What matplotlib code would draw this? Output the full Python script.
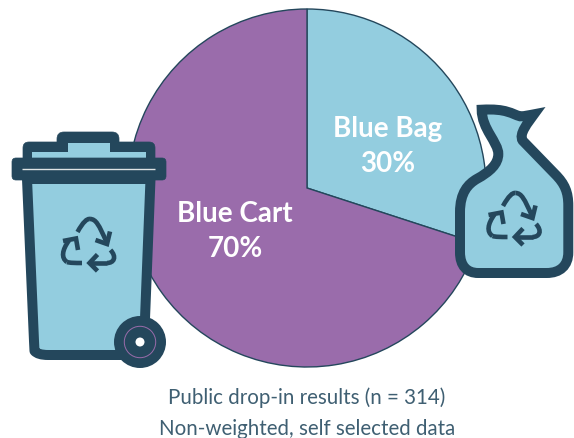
import matplotlib
matplotlib.use("Agg")
import matplotlib.pyplot as plt
from matplotlib.path import Path
from matplotlib.patches import PathPatch, Circle, FancyBboxPatch, Rectangle

labels = ["Blue Bag", "Blue Cart"]
shares = [30, 70]
colors = ["#93CDDF", "#9A6CAB"]
caption = ["Public drop-in results (n = 314)", "Non-weighted, self selected data"]

NAVY = "#24475C"
LIGHT = "#93CDDF"
W, H = 574, 439
CX, CY, R = 307, 189, 179
PX = 0.72  # points per pixel at 100 dpi

plt.rcParams["font.family"] = ["Lato", "DejaVu Sans"]
fig = plt.figure(figsize=(W / 100, H / 100), dpi=100)

# Pie axes sized so the circle sits at the wanted place on the canvas
pie_ax = fig.add_axes([(CX - R) / W, 1 - (CY + R) / H, 2 * R / W, 2 * R / H])
pie_ax.pie(shares, colors=colors, startangle=90, counterclock=False, radius=1,
           wedgeprops=dict(edgecolor=NAVY, linewidth=1.0))
pie_ax.set_xlim(-1, 1)
pie_ax.set_ylim(-1, 1)
for p in pie_ax.patches:
    p.set_clip_on(False)

# Overlay in canvas pixels for the icons and the text
ax = fig.add_axes([0, 0, 1, 1], facecolor="none")
ax.set_xlim(0, W)
ax.set_ylim(H, 0)
ax.axis("off")


def stroke(pts, lw=4.6 * PX, join="miter", cap="butt", z=6):
    ax.plot(*zip(*pts), color=NAVY, lw=lw, solid_joinstyle=join, solid_capstyle=cap, zorder=z)


def curve(pts, lw=4.6 * PX, z=6):
    """Single cubic stroke through four control points."""
    path = Path(pts, [Path.MOVETO, Path.CURVE4, Path.CURVE4, Path.CURVE4])
    ax.add_patch(PathPatch(path, fc="none", ec=NAVY, lw=lw, capstyle="butt", zorder=z))


def recycle(dx, dy):
    """Three chasing arrows of the recycling sign."""
    s = lambda pts: [(x + dx, y + dy) for x, y in pts]
    curve(s([(77.5, 233), (83, 223), (87, 219.5), (90, 220)]))
    curve(s([(90, 220), (96, 220), (99, 226), (106.5, 243)]))
    stroke(s([(95.5, 241), (107, 245), (110, 232.5)]))
    curve(s([(82, 264), (75, 264), (70, 264), (67, 263)]))
    curve(s([(67, 263), (61, 259), (62, 251), (69, 241.5)]))
    stroke(s([(63, 242), (76, 239.5), (78, 251)]))
    curve(s([(110.5, 251), (117, 258), (114, 264), (107, 264)]))
    stroke(s([(107, 264), (90, 264)]))
    stroke(s([(97.5, 255.5), (89.5, 264), (97.5, 272)]))


# Wheeled bin: lid
ax.add_patch(FancyBboxPatch((57, 133), 62, 22, boxstyle="round,pad=0,rounding_size=7",
                            fc=NAVY, ec=NAVY, lw=0.5, zorder=3))
ax.add_patch(FancyBboxPatch((23, 143), 132, 25, boxstyle="round,pad=0,rounding_size=6",
                            fc=NAVY, ec=NAVY, lw=0.5, zorder=3))
ax.add_patch(Rectangle((32, 153), 113.5, 7, fc=LIGHT, ec="none", zorder=4))
ax.add_patch(Rectangle((68, 144), 42, 10, fc=LIGHT, ec="none", zorder=4))
ax.add_patch(FancyBboxPatch((12, 159), 154, 22, boxstyle="round,pad=0,rounding_size=4",
                            fc=NAVY, ec=NAVY, lw=0.5, zorder=5))
ax.plot([22, 155], [170, 170], color="#DDE3E4", lw=1.0, solid_capstyle="butt", zorder=6)

# Wheeled bin: body
body = Path([(27, 180), (150.5, 180), (144, 345), (144, 356), (136, 356), (48, 356),
             (38, 356), (34.5, 352), (34, 342), (27, 180)],
            [Path.MOVETO, Path.LINETO, Path.LINETO, Path.LINETO, Path.LINETO, Path.LINETO,
             Path.CURVE3, Path.CURVE3, Path.LINETO, Path.CLOSEPOLY])
ax.add_patch(PathPatch(body, fc=LIGHT, ec=NAVY, lw=10 * PX, joinstyle="round", zorder=2))
recycle(0, 0)

# Wheeled bin: wheel
ax.add_patch(Circle((140, 343), 26, fc=NAVY, ec="none", zorder=7))
ax.add_patch(Circle((140, 343), 15.7, fc="none", ec=colors[1], lw=0.7, zorder=8))
ax.add_patch(Circle((140, 343), 4.5, fc="white", ec="none", zorder=8))

# Tied bag
bag_v = [(481.7, 110.7),
         (506.7, 109.3), (511.7, 115), (520, 117.3),
         (525, 117.3), (530, 116), (534, 115.3),
         (528.3, 123.3), (518.3, 135), (522.7, 141.7),
         (555, 175),
         (565, 185), (568.3, 193.3), (568.3, 206.7),
         (568.3, 253.3),
         (568.3, 266.7), (560, 274), (546.7, 274),
         (478.3, 274),
         (466.7, 274), (460, 266.7), (460, 253.3),
         (460, 213.3),
         (460, 193.3), (468.3, 185), (476.7, 180),
         (490, 172.7), (498.3, 165), (498.3, 155),
         (498.3, 143.3), (481.7, 130), (481.7, 110.7),
         (481.7, 110.7)]
C4, LN = Path.CURVE4, Path.LINETO
bag_c = [Path.MOVETO, C4, C4, C4, C4, C4, C4, C4, C4, C4, LN, C4, C4, C4, LN, C4, C4, C4,
         LN, C4, C4, C4, LN, C4, C4, C4, C4, C4, C4, C4, C4, C4, Path.CLOSEPOLY]
ax.add_patch(PathPatch(Path(bag_v, bag_c), fc=LIGHT, ec=NAVY, lw=10 * PX,
                       joinstyle="miter", zorder=2))
recycle(425.5, -26)

# Slice labels
label_style = dict(color="white", fontsize=20, fontweight="bold", ha="center", va="center", zorder=9)
ax.text(235, 214, labels[1], **label_style)
ax.text(235, 249, f"{shares[1]}%", **label_style)
ax.text(388, 129, labels[0], **label_style)
ax.text(388, 164, f"{shares[0]}%", **label_style)

# Caption
ax.text(307, 398, caption[0], color="#3F5F72", fontsize=14.8, ha="center", va="center")
ax.text(307, 429, caption[1], color="#3F5F72", fontsize=14.8, ha="center", va="center")

fig.savefig("out.png", dpi=100)
